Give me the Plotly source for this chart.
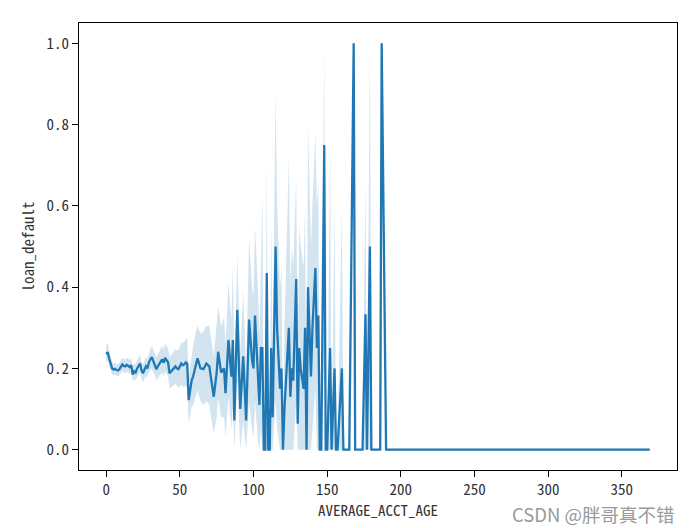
import plotly.graph_objects as go

# AVERAGE_ACCT_AGE values (vertices)
acct_age = [0, 1, 2, 3, 4, 5, 6, 7, 8, 9, 10, 11, 12, 13, 14, 15, 16, 17, 18, 19,
            20, 21, 22, 23, 24, 25, 26, 27, 28, 29, 30, 31, 32, 33, 34, 35, 36, 37, 38, 39,
            40, 41, 42, 43, 44, 45, 46, 47, 48, 49, 50, 51, 52, 53, 54, 55, 56, 57, 58, 59,
            61, 62, 64, 66, 68, 70, 72, 73, 75, 76, 78, 80, 81, 83, 85, 86, 87, 89, 91, 93,
            95, 97, 99, 100, 101, 103, 104, 105, 106, 107, 108, 109, 110, 111, 112, 113, 115, 116, 118, 119,
            120, 121, 122, 124, 125, 126, 127, 129, 130, 131, 132, 134, 135, 136, 137, 139, 140, 142, 143, 144,
            145, 146, 148, 149, 150, 152, 153, 155, 156, 157, 160, 161, 165, 168, 169, 174, 176, 177, 179, 180,
            186, 187, 190, 200, 220, 250, 300, 369]

# mean loan_default
mean_default = [0.235, 0.24, 0.225, 0.215, 0.2, 0.197, 0.199, 0.196, 0.195, 0.198, 0.204, 0.21, 0.206, 0.205, 0.209, 0.207, 0.203, 0.208, 0.185, 0.193,
                0.19, 0.2, 0.205, 0.212, 0.195, 0.188, 0.197, 0.205, 0.2, 0.215, 0.222, 0.228, 0.218, 0.21, 0.198, 0.205, 0.21, 0.217, 0.222, 0.214,
                0.226, 0.22, 0.215, 0.188, 0.192, 0.195, 0.2, 0.205, 0.2, 0.198, 0.205, 0.212, 0.208, 0.21, 0.215, 0.212, 0.122, 0.15, 0.17, 0.18,
                0.21, 0.225, 0.2, 0.198, 0.212, 0.205, 0.155, 0.13, 0.19, 0.241, 0.19, 0.2, 0.139, 0.27, 0.18, 0.27, 0.072, 0.344, 0.1, 0.23,
                0.072, 0.32, 0.22, 0.2, 0.33, 0.2, 0.11, 0.25, 0.25, 0.0, 0.0, 0.435, 0.0, 0.0, 0.25, 0.08, 0.5, 0.3, 0.15, 0.2,
                0.0, 0.1, 0.18, 0.3, 0.13, 0.2, 0.17, 0.42, 0.064, 0.25, 0.2, 0.15, 0.3, 0.0, 0.4, 0.18, 0.3, 0.447, 0.25, 0.33,
                0.0, 0.0, 0.75, 0.0, 0.0, 0.25, 0.0, 0.2, 0.0, 0.0, 0.2, 0.0, 0.0, 1.0, 0.0, 0.0, 0.333, 0.0, 0.5, 0.0,
                0.0, 1.0, 0.0, 0.0, 0.0, 0.0, 0.0, 0.0]

# 95% CI lower bound
ci_low = [0.215, 0.22, 0.207, 0.198, 0.185, 0.183, 0.185, 0.182, 0.18, 0.183, 0.189, 0.194, 0.19, 0.188, 0.192, 0.19, 0.185, 0.19, 0.167, 0.174,
          0.17, 0.18, 0.185, 0.191, 0.174, 0.166, 0.175, 0.182, 0.177, 0.19, 0.196, 0.2, 0.19, 0.183, 0.17, 0.176, 0.18, 0.186, 0.19, 0.181,
          0.193, 0.186, 0.18, 0.15, 0.153, 0.155, 0.159, 0.163, 0.156, 0.152, 0.157, 0.16, 0.155, 0.155, 0.157, 0.15, 0.065, 0.09, 0.105, 0.11,
          0.135, 0.145, 0.12, 0.11, 0.12, 0.11, 0.06, 0.04, 0.08, 0.13, 0.08, 0.08, 0.03, 0.13, 0.05, 0.1, 0.0, 0.17, 0.0, 0.07,
          0.0, 0.12, 0.05, 0.03, 0.12, 0.02, 0.0, 0.05, 0.0, 0.0, 0.0, 0.15, 0.0, 0.0, 0.0, 0.0, 0.12, 0.05, 0.0, 0.0,
          0.0, 0.0, 0.0, 0.0, 0.0, 0.0, 0.0, 0.12, 0.0, 0.0, 0.0, 0.0, 0.0, 0.0, 0.0, 0.0, 0.05, 0.15, 0.0, 0.0,
          0.0, 0.0, 0.25, 0.0, 0.0, 0.0, 0.0, 0.0, 0.0, 0.0, 0.0, 0.0, 0.0, 1.0, 0.0, 0.0, 0.0, 0.0, 0.0, 0.0,
          0.0, 1.0, 0.0, 0.0, 0.0, 0.0, 0.0, 0.0]

# 95% CI upper bound
ci_high = [0.258, 0.262, 0.245, 0.233, 0.216, 0.212, 0.214, 0.211, 0.21, 0.214, 0.22, 0.227, 0.223, 0.222, 0.227, 0.225, 0.221, 0.227, 0.204, 0.213,
           0.21, 0.221, 0.226, 0.234, 0.217, 0.21, 0.22, 0.229, 0.224, 0.24, 0.248, 0.256, 0.246, 0.238, 0.227, 0.234, 0.24, 0.248, 0.255, 0.247,
           0.26, 0.255, 0.25, 0.227, 0.232, 0.236, 0.242, 0.248, 0.244, 0.245, 0.253, 0.265, 0.261, 0.266, 0.273, 0.275, 0.18, 0.21, 0.24, 0.255,
           0.29, 0.305, 0.285, 0.29, 0.305, 0.305, 0.255, 0.23, 0.31, 0.355, 0.305, 0.325, 0.26, 0.41, 0.32, 0.45, 0.18, 0.48, 0.24, 0.39,
           0.2, 0.52, 0.4, 0.38, 0.55, 0.4, 0.28, 0.5, 0.63, 0.0, 0.0, 0.72, 0.0, 0.0, 0.55, 0.25, 0.88, 0.6, 0.4, 0.45,
           0.0, 0.3, 0.45, 0.72, 0.4, 0.5, 0.45, 0.67, 0.2, 0.55, 0.5, 0.45, 0.6, 0.0, 0.8, 0.5, 0.6, 0.78, 0.6, 0.67,
           0.0, 0.0, 1.0, 0.0, 0.0, 0.75, 0.0, 0.6, 0.0, 0.0, 0.6, 0.0, 0.0, 1.0, 0.0, 0.0, 0.667, 0.0, 1.0, 0.0,
           0.0, 1.0, 0.0, 0.0, 0.0, 0.0, 0.0, 0.0]

x_ticks = [0, 50, 100, 150, 200, 250, 300, 350]
y_ticks = [0.0, 0.2, 0.4, 0.6, 0.8, 1.0]

BLUE = "#1f77b4"
FONT = "Noto Sans Mono CJK SC, DejaVu Sans Mono, monospace"
TEXT = "#333333"

fig = go.Figure()
fig.add_trace(go.Scatter(x=acct_age, y=ci_low, mode="lines", line=dict(width=0, color=BLUE),
                         showlegend=False, hoverinfo="skip"))
fig.add_trace(go.Scatter(x=acct_age, y=ci_high, mode="lines", line=dict(width=0, color=BLUE),
                         fill="tonexty", fillcolor="rgba(31,119,180,0.2)",
                         showlegend=False, hoverinfo="skip"))
fig.add_trace(go.Scatter(x=acct_age, y=mean_default, mode="lines",
                         line=dict(width=2.3, color=BLUE), showlegend=False))

axis_common = dict(showgrid=False, zeroline=False, showline=True, mirror=True,
                   linecolor="black", linewidth=1.2, ticks="outside", ticklen=6,
                   tickcolor="black", tickwidth=1.2, automargin=False,
                   tickfont=dict(family=FONT, size=15, color=TEXT))

fig.update_layout(
    width=692, height=528,
    margin=dict(l=79, r=15, t=23, b=58),
    paper_bgcolor="white", plot_bgcolor="white",
    xaxis=dict(range=[-18.45, 387.45], tickvals=x_ticks,
               ticktext=[str(v) for v in x_ticks],
               title=dict(text="AVERAGE_ACCT_AGE", standoff=2,
                          font=dict(family=FONT, size=15, color=TEXT)),
               **axis_common),
    yaxis=dict(range=[-0.05, 1.05], tickvals=y_ticks,
               ticktext=[f"{v:.1f}" for v in y_ticks],
               title=dict(text="loan_default", standoff=8,
                          font=dict(family=FONT, size=15, color=TEXT)),
               **axis_common),
    annotations=[dict(text="CSDN @胖哥真不错", xref="paper", yref="paper",
                      x=1.0, y=-0.098, xanchor="right", yanchor="middle",
                      showarrow=False,
                      font=dict(family="Noto Sans CJK SC", size=18.5, color="#9a9a9a"))],
)

fig.write_html("out.html", config={"displayModeBar": False},
               post_script="document.body.style.margin='0';document.body.style.overflow='hidden';")
